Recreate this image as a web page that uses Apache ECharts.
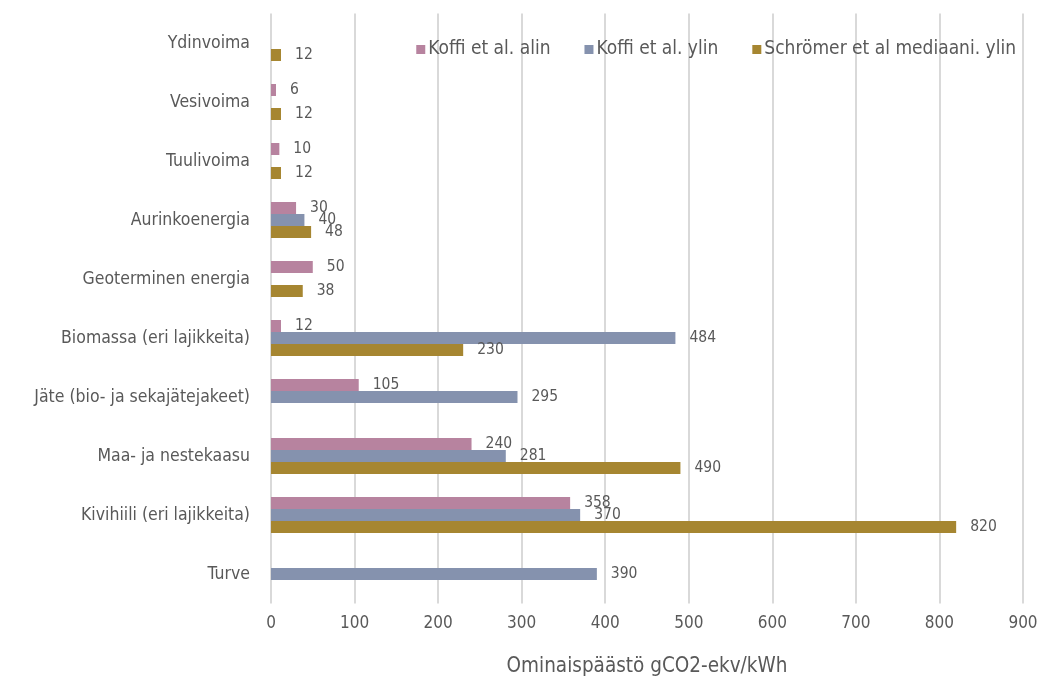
<!DOCTYPE html>
<html>
<head>
<meta charset="utf-8">
<script src="https://cdn.jsdelivr.net/npm/echarts@6/dist/echarts.min.js"></script>
<style>html,body{margin:0;padding:0;background:#fff;}#c{width:1043px;height:677px;}</style>
</head>
<body>
<div id="c"></div>
<script>
const categories = ["Ydinvoima","Vesivoima","Tuulivoima","Aurinkoenergia","Geoterminen energia","Biomassa (eri lajikkeita)","Jäte (bio- ja sekajätejakeet)","Maa- ja nestekaasu","Kivihiili (eri lajikkeita)","Turve"];
const seriesNames = ["Koffi et al. alin","Koffi et al. ylin","Schrömer et al mediaani. ylin"];
const koffiAlin = [null, 6, 10, 30, 50, 12, 105, 240, 358, null];
const koffiYlin = [null, null, null, 40, null, 484, 295, 281, 370, 390];
const schromer = [12, 12, 12, 48, 38, 230, null, 490, 820, null];
const xTicks = [0, 900, 100];

const FONT = '"Liberation Sans Narrow", "DejaVu Sans Condensed", Roboto, sans-serif';
const TXT = '#595959';
const colors = ['#b7839f', '#8592ae', '#a68631'];
const values = [koffiAlin, koffiYlin, schromer];

const chart = echarts.init(document.getElementById('c'));
chart.setOption({
  animation: false,
  textStyle: {fontFamily: FONT, color: TXT},
  legend: {
    data: seriesNames,
    top: 35, right: 22,
    itemWidth: 9, itemHeight: 9, itemGap: 34,
    icon: 'rect',
    textStyle: {fontFamily: FONT, color: TXT, fontSize: 19, padding: [0,0,0,-2]}
  },
  grid: {left: 271, right: 20, top: 13.5, height: 590, containLabel: false, outerBoundsMode: 'none'},
  xAxis: {
    type: 'value', min: xTicks[0], max: xTicks[1], interval: xTicks[2],
    name: 'Ominaispäästö gCO2-ekv/kWh', nameLocation: 'middle', nameGap: 53,
    nameTextStyle: {fontFamily: FONT, color: TXT, fontSize: 20.5},
    axisLine: {show: false}, axisTick: {show: false},
    axisLabel: {fontFamily: FONT, color: TXT, fontSize: 17, margin: 12},
    splitLine: {lineStyle: {color: '#d9d9d9', width: 2}}
  },
  yAxis: {
    type: 'category', data: categories, inverse: true,
    axisLine: {show: false}, axisTick: {show: false},
    axisLabel: {fontFamily: FONT, color: TXT, fontSize: 17.5, margin: 21}
  },
  series: seriesNames.map((n, i) => ({
    name: n, type: 'bar', data: values[i],
    barWidth: 12, barGap: '0%',
    itemStyle: {color: colors[i]},
    label: {show: true, position: 'right', distance: 14, color: TXT, fontFamily: FONT, fontSize: 15.5}
  }))
});
</script>
</body>
</html>
